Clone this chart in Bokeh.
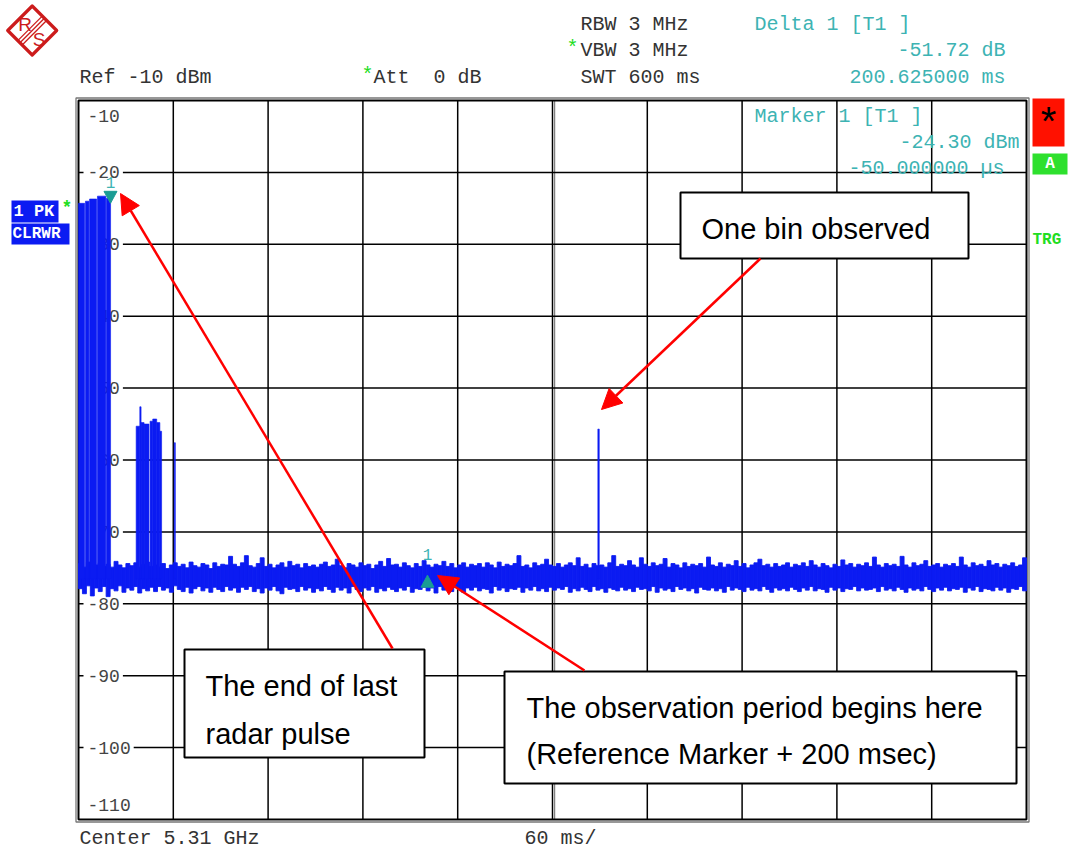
import numpy as np
from bokeh.plotting import figure
from bokeh.models import Range1d, Arrow, NormalHead
from bokeh.core.properties import value
from bokeh.embed import file_html
from bokeh.resources import INLINE

# ---------------- data ----------------
sweep_ms = 600
grid_t = [60, 120, 180, 240, 300, 360, 420, 480, 540]
grid_db = [-20, -30, -40, -50, -60, -70, -80, -90, -100]
tick_values = [-20, -30, -40, -50, -60, -70, -80, -90, -100]
tick_labels = ["-20", "-30", "-40", "-50", "-60", "-70", "-80", "-90", "-100"]
edge_labels = ["-10", "-110"]

# pulses (start ms, end ms, peak dBm)
pulse_start = [0.0, 4.4, 7.0, 12.0, 17.7, 36.5, 38.8, 39.6, 41.5, 45.3, 47.0, 49.5, 51.5, 60.6, 328.7]
pulse_end   = [3.9, 6.6, 11.5, 17.3, 20.3, 38.8, 39.6, 41.5, 44.6, 47.0, 49.5, 51.5, 52.6, 61.3, 329.6]
pulse_level = [-24.3, -24.0, -23.7, -23.3, -23.6, -55.3, -52.6, -54.8, -55.0, -54.6, -54.3, -54.8, -56.0, -57.6, -55.7]

noise_step_ms = 2.5
noise_top = [
 -74.4,-74.9,-74.2,-75.0,-74.6,-74.3,-74.8,-74.5,-74.9,-74.1,-74.6,-75.0,-74.4,-74.7,-74.3,-74.9,-74.5,-74.2,-74.8,-74.6,
 -74.9,-74.4,-75.1,-74.6,-74.3,-74.8,-74.5,-75.0,-74.2,-74.7,-74.9,-74.4,-74.6,-75.1,-74.3,-74.8,-74.5,-74.6,-73.4,-74.5,
 -74.8,-74.3,-73.3,-74.7,-74.9,-74.4,-73.6,-74.8,-74.5,-75.0,-74.6,-74.3,-74.9,-74.1,-74.7,-74.5,-75.0,-74.4,-74.8,-74.6,
 -74.9,-74.5,-74.2,-74.8,-74.6,-73.8,-74.7,-75.0,-74.4,-74.6,-74.9,-74.3,-74.7,-74.5,-75.1,-74.6,-74.1,-74.8,-73.7,-74.6,
 -74.5,-74.9,-74.3,-74.7,-75.0,-74.4,-74.8,-74.0,-74.6,-74.9,-74.5,-74.7,-74.1,-74.8,-74.4,-75.0,-74.6,-74.3,-74.9,-74.5,
 -74.7,-74.4,-74.9,-74.3,-74.6,-75.0,-74.2,-74.8,-74.5,-74.7,-74.4,-73.3,-74.8,-74.6,-75.0,-74.3,-74.7,-74.5,-73.8,-74.6,
 -74.8,-74.4,-74.9,-74.6,-74.3,-74.7,-73.6,-74.8,-74.5,-75.0,-74.4,-74.7,-74.6,-74.9,-74.3,-73.3,-74.8,-74.5,-74.7,-74.0,
 -74.6,-74.9,-73.6,-74.5,-74.8,-74.3,-74.7,-74.5,-73.7,-74.9,-74.4,-74.6,-75.0,-74.3,-74.8,-74.5,-74.7,-74.4,-74.9,-73.5,
 -74.6,-74.8,-74.3,-74.9,-74.5,-74.7,-74.0,-74.8,-74.4,-75.0,-74.6,-74.3,-73.8,-74.7,-74.5,-74.9,-74.4,-74.8,-74.6,-74.3,
 -74.9,-74.5,-74.7,-74.3,-74.8,-74.0,-74.6,-74.9,-74.4,-74.7,-75.0,-74.5,-74.8,-73.9,-74.6,-74.4,-74.9,-74.5,-74.7,-74.3,
 -74.8,-73.5,-74.6,-74.9,-74.4,-74.7,-74.5,-74.8,-73.4,-74.6,-74.9,-74.3,-74.7,-74.5,-74.0,-74.8,-74.6,-74.4,-74.9,-74.5,
 -74.7,-74.4,-74.8,-73.5,-74.6,-74.9,-74.3,-74.7,-74.5,-74.8,-74.0,-74.6,-74.4,-74.9,-74.5,-74.7,-74.3,-74.8,-74.6,-73.6,
]
noise_bottom = [
 -77.9,-78.6,-77.5,-78.9,-77.8,-78.3,-77.6,-79.0,-77.9,-78.2,-77.5,-78.4,-77.8,-78.1,-77.6,-78.5,-77.9,-78.2,-77.7,-78.3,
 -77.6,-78.1,-77.8,-78.4,-77.5,-78.0,-78.3,-77.7,-78.5,-77.9,-77.6,-78.2,-77.8,-78.4,-77.7,-78.0,-78.3,-77.6,-78.1,-77.8,
 -78.4,-77.7,-78.0,-77.6,-78.3,-77.9,-78.5,-77.8,-78.1,-77.6,-78.2,-78.6,-77.7,-78.0,-77.9,-78.3,-77.6,-78.1,-77.8,-78.4,
 -77.9,-78.2,-77.6,-78.0,-78.4,-77.7,-78.1,-77.8,-78.5,-77.6,-78.0,-78.3,-77.8,-78.1,-77.6,-78.4,-77.9,-78.2,-77.7,-78.0,
 -78.3,-77.8,-78.1,-77.6,-78.4,-77.9,-78.0,-77.7,-78.2,-77.8,-78.5,-77.6,-78.1,-77.9,-78.3,-77.7,-78.0,-78.4,-77.8,-78.1,
 -77.7,-78.2,-77.9,-78.0,-78.5,-77.6,-78.1,-77.8,-78.3,-77.9,-78.0,-77.7,-78.4,-77.8,-78.1,-77.6,-78.2,-77.9,-78.3,-77.7,
 -78.1,-77.8,-78.0,-77.6,-78.4,-77.9,-78.2,-77.7,-78.0,-78.3,-77.6,-78.1,-77.9,-78.4,-77.8,-78.0,-78.2,-77.7,-78.1,-77.9,
 -78.3,-77.7,-78.0,-77.9,-78.2,-77.6,-78.4,-77.8,-78.1,-77.9,-78.3,-77.6,-78.0,-77.8,-78.2,-77.9,-78.5,-77.7,-78.0,-78.1,
 -77.8,-78.2,-77.9,-78.4,-77.6,-78.1,-77.8,-78.0,-78.3,-77.7,-78.1,-77.9,-78.2,-77.6,-78.0,-78.4,-77.8,-78.1,-77.9,-78.2,
 -77.7,-78.0,-78.3,-77.8,-78.1,-77.6,-78.2,-77.9,-78.0,-78.4,-77.7,-78.1,-77.8,-78.3,-77.9,-78.0,-77.6,-78.2,-77.8,-78.1,
 -78.0,-77.8,-78.3,-77.6,-78.1,-77.9,-78.2,-77.7,-78.0,-78.4,-77.8,-78.1,-77.9,-78.2,-77.6,-78.0,-78.3,-77.8,-78.1,-77.7,
 -78.2,-77.9,-78.0,-77.7,-78.4,-77.8,-78.1,-77.6,-78.3,-77.9,-78.0,-78.2,-77.7,-78.1,-77.8,-78.4,-77.9,-78.0,-77.6,-78.2,
]
pulse_base = -76.5

marker1_t = 20.25
marker1_level = -24.30
delta_t = 200.625
delta_db = -51.72

# ---------------- layout helpers (px -> data) ----------------
W, H = 1074, 851
X0PX, X1PX = 78, 1026
Y0PX, Y1PX = 100, 819
sx = (X1PX - X0PX) / sweep_ms
sy = (Y1PX - Y0PX) / 100.0

def X(px):
    return (px - X0PX) / sx

def Y(py):
    return -10 - (py - Y0PX) / sy

p = figure(width=W, height=H, x_range=Range1d(X(0), X(W)), y_range=Range1d(Y(H), Y(0)),
           output_backend="svg", toolbar_location=None,
           x_axis_location=None, y_axis_location=None,
           min_border=0, min_border_left=0, min_border_right=0, min_border_top=0, min_border_bottom=0)
p.grid.visible = False
p.outline_line_color = None
p.background_fill_color = "white"
p.border_fill_color = "white"

MONO = "Liberation Mono"
SANS = "Liberation Sans"
DARK = "#333333"
TEAL = "#3db3b3"
TEAL_M = "#1a9c94"
GREEN = "#22dd22"
BLUE = "#0b1bf2"
RED = "#ff0000"
NB = "\u00a0"

def txt(s, px, py, color, size, align="left", font=MONO, style="normal", baseline="middle"):
    p.text(x=[X(px)], y=[Y(py)], text=[s], text_color=color, text_font=value(font),
           text_font_size=value(f"{size}px"), text_align=align, text_baseline=baseline,
           text_font_style=style)

# ---------------- grid ----------------
p.segment(x0=grid_t, y0=[-10] * len(grid_t), x1=grid_t, y1=[-110] * len(grid_t),
          line_color="black", line_width=1.5)
# doubled centre line
p.segment(x0=[300 + 2.2 / sx], y0=[-10], x1=[300 + 2.2 / sx], y1=[-110], line_color="#555555", line_width=0.9)
p.segment(x0=[0] * len(grid_db), y0=grid_db, x1=[sweep_ms] * len(grid_db), y1=grid_db,
          line_color="black", line_width=1.5)

# frame (double)
p.quad(left=[X(X0PX - 2.5)], right=[X(X1PX + 2.5)], top=[Y(Y0PX - 2.5)], bottom=[Y(Y1PX + 2.5)],
       fill_color=None, line_color="#777777", line_width=1.3)
p.quad(left=[0], right=[sweep_ms], top=[-10], bottom=[-110], fill_color=None, line_color="black", line_width=2)

# tick label backgrounds + labels
lab_right = [X(87 + len(s) * 10.8 + 3) for s in tick_labels]
p.quad(left=[X(83)] * len(tick_labels), right=lab_right,
       top=[v + 8 / sy for v in tick_values], bottom=[v - 8 / sy for v in tick_values],
       fill_color="white", line_color=None)
p.text(x=[X(87)] * len(tick_labels), y=tick_values, text=tick_labels, text_color="#444444",
       text_font=value(MONO), text_font_size=value("18px"), text_align="left", text_baseline="middle")
p.text(x=[X(87)] * 2, y=[Y(115), Y(804)], text=edge_labels, text_color="#444444",
       text_font=value(MONO), text_font_size=value("18px"), text_align="left", text_baseline="middle")

# ---------------- trace ----------------
n = len(noise_top)
noise_t = np.arange(n) * noise_step_ms
p.quad(left=noise_t, right=noise_t + noise_step_ms, top=noise_top, bottom=noise_bottom,
       fill_color=BLUE, line_color=BLUE, line_width=0.9)
p.quad(left=pulse_start, right=pulse_end, top=pulse_level, bottom=[pulse_base] * len(pulse_level),
       fill_color=BLUE, line_color=BLUE, line_width=0.6)

# ---------------- markers ----------------
m2_t = marker1_t + delta_t
m2_level = marker1_level + delta_db
hw, hh = 6.5 / sx, 12 / sy
p.patch(x=[marker1_t - hw, marker1_t + hw, marker1_t], y=[marker1_level + hh, marker1_level + hh, marker1_level],
        fill_color=TEAL_M, line_color=TEAL_M)
p.patch(x=[m2_t - hw, m2_t + hw, m2_t], y=[m2_level - hh, m2_level - hh, m2_level],
        fill_color=TEAL_M, line_color=TEAL_M)
p.text(x=[marker1_t, m2_t], y=[marker1_level + 21 / sy, m2_level + 21 / sy], text=["1", "1"],
       text_color=TEAL, text_font=value(MONO), text_font_size=value("16px"),
       text_align="center", text_baseline="middle")

# ---------------- header / footer texts ----------------
txt("Ref -10 dBm", 79, 77, DARK, 20)
txt("*", 361, 75, GREEN, 20)
txt("Att" + NB + NB + "0 dB", 373, 77, DARK, 20)
txt("RBW 3 MHz", 580, 24, DARK, 20)
txt("*", 566, 48, GREEN, 20)
txt("VBW 3 MHz", 580, 50, DARK, 20)
txt("SWT 600 ms", 580, 77, DARK, 20)
txt("Delta 1 [T1" + NB + "]", 754, 24, TEAL, 20)
txt("-51.72 dB", 1005, 50, TEAL, 20, align="right")
txt("200.625000 ms", 1005, 77, TEAL, 20, align="right")
txt("Marker 1 [T1" + NB + "]", 754, 116, TEAL, 20)
txt("-24.30 dBm", 1019, 142, TEAL, 20, align="right")
txt("-50.000000 \u00b5s", 1004, 168, TEAL, 20, align="right")
txt("Center 5.31 GHz", 79, 838, DARK, 20)
txt("60 ms/", 524, 838, DARK, 20)

# left trace info boxes
p.quad(left=[X(11), X(11)], right=[X(58), X(69)], top=[Y(200), Y(223)], bottom=[Y(222), Y(244)],
       fill_color=BLUE, line_color=None)
txt("1 PK", 13, 211, "white", 17, style="bold")
txt("CLRWR", 12, 233.5, "white", 16, style="bold")
txt("*", 61, 207, GREEN, 18, style="bold")

# right status boxes
p.quad(left=[X(1032)], right=[X(1064)], top=[Y(98)], bottom=[Y(146)], fill_color="#ff1100", line_color=None)
txt("*", 1048, 120, "black", 40, align="center", font=SANS)
p.quad(left=[X(1032)], right=[X(1067)], top=[Y(153)], bottom=[Y(174)], fill_color="#2ee02e", line_color=None)
txt("A", 1049.5, 163.5, "white", 16, align="center", style="bold")
txt("TRG", 1032, 239, GREEN, 16, style="bold")

# R&S logo
cx, cy, r = 31.7, 30, 24.5
p.patch(x=[X(cx - r), X(cx), X(cx + r), X(cx)], y=[Y(cy), Y(cy - r), Y(cy), Y(cy + r)],
        fill_color="white", line_color="#cc1c1c", line_width=3.2, line_join="round")
for d in (-2.2, 0.0, 2.2):
    p.segment(x0=[X(19.5 + d)], y0=[Y(42.3 + d)], x1=[X(43.9 + d)], y1=[Y(17.8 + d)],
              line_color="#cc1c1c", line_width=1.3)
txt("R", 24.5, 24, "#cc1c1c", 19, align="center", font=SANS)
txt("S", 38.5, 38.5, "#cc1c1c", 19, align="center", font=SANS)

# ---------------- annotation boxes ----------------
boxes_l = [680, 184, 504]
boxes_r = [968, 424, 1016]
boxes_t = [192, 649, 671]
boxes_b = [258, 757, 783]
p.quad(left=[X(v) for v in boxes_l], right=[X(v) for v in boxes_r],
       top=[Y(v) for v in boxes_t], bottom=[Y(v) for v in boxes_b],
       fill_color="white", line_color="black", line_width=2)
txt("One bin observed", 701, 228, "black", 29, font=SANS)
txt("The end of last", 205, 685, "black", 29, font=SANS)
txt("radar pulse", 205, 733, "black", 29, font=SANS)
txt("The observation period begins here", 526, 707, "black", 29, font=SANS)
txt("(Reference Marker + 200 msec)", 526, 753, "black", 29, font=SANS)

# ---------------- arrows ----------------
for (x0, y0, x1, y1) in [(392, 648, 120, 193), (584, 670, 437, 575), (760, 258, 601, 409)]:
    p.add_layout(Arrow(end=NormalHead(size=20, fill_color=RED, line_color=RED, line_width=1),
                       x_start=X(x0), y_start=Y(y0), x_end=X(x1), y_end=Y(y1),
                       line_color=RED, line_width=2.5))

open("out.html", "w").write(file_html(p, INLINE))
